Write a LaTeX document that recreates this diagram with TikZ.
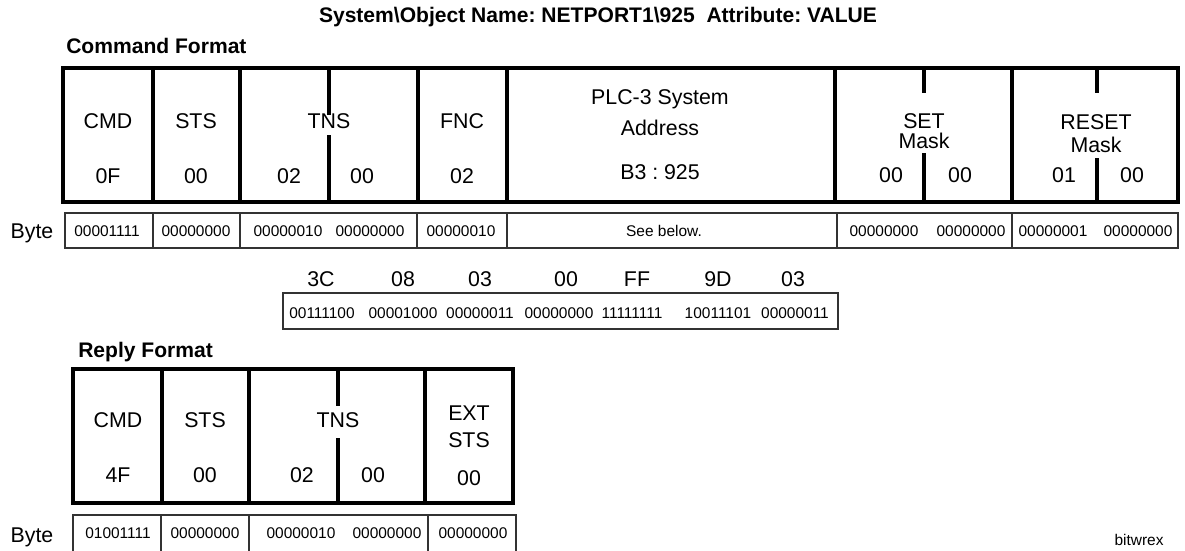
\documentclass[tikz,border=0pt]{standalone}
\usepackage{fontspec}
\setmainfont{Liberation Sans}
\frenchspacing
\begin{document}
\begin{tikzpicture}[x=0.75pt,y=0.75pt,yscale=-1,xscale=1,
  frm/.style={line width=3pt},
  spl/.style={line width=2.6pt},
  rowline/.style={line width=0.8pt, draw=black!80},
  lbl/.style={inner sep=0.75pt, font=\fontsize{16}{18}\selectfont},
  bits/.style={inner sep=0.75pt, font=\fontsize{11.6}{13}\selectfont},
  ttl/.style={inner sep=0.75pt, font=\bfseries\fontsize{15.8}{18}\selectfont}]
\useasboundingbox (0,0) rectangle (1185,550);

%Shape: Rectangle [command frame]
\draw [frm] (63,68) rectangle (1178,202) ;
%Straight Lines [command dividers]
\draw [frm] (153,68) -- (153,202) ;
\draw [frm] (240,68) -- (240,202) ;
\draw [frm] (418,68) -- (418,202) ;
\draw [frm] (507,68) -- (507,202) ;
\draw [frm] (835,68) -- (835,202) ;
\draw [frm] (1012,68) -- (1012,202) ;
%Straight Lines [split bytes]
\draw [spl] (329,68) -- (329,115) ;
\draw [spl] (329,135) -- (329,202) ;
\draw [spl] (924,68) -- (924,93) ;
\draw [spl] (924,153) -- (924,202) ;
\draw [spl] (1097,68) -- (1097,93) ;
\draw [spl] (1097,158) -- (1097,202) ;

%Shape: Rectangle [command bytes]
\draw [rowline] (65,213) rectangle (1178,248) ;
\draw [rowline] (153,213) -- (153,248) ;
\draw [rowline] (240,213) -- (240,248) ;
\draw [rowline] (417,213) -- (417,248) ;
\draw [rowline] (507,213) -- (507,248) ;
\draw [rowline] (837,213) -- (837,248) ;
\draw [rowline] (1012,213) -- (1012,248) ;

%Shape: Rectangle [address bytes]
\draw [rowline] (283,293) rectangle (838,329) ;

%Shape: Rectangle [reply frame]
\draw [frm] (73,369) rectangle (513,503) ;
\draw [frm] (162,369) -- (162,503) ;
\draw [frm] (249,369) -- (249,503) ;
\draw [frm] (425,369) -- (425,503) ;
\draw [spl] (338,369) -- (338,406) ;
\draw [spl] (338,438) -- (338,503) ;

%Shape: Rectangle [reply bytes]
\draw [rowline] (73,515) rectangle (516,553) ;
\draw [rowline] (161,515) -- (161,553) ;
\draw [rowline] (249,515) -- (249,553) ;
\draw [rowline] (428,515) -- (428,553) ;

% Text Node
\draw (598,17) node (title) [ttl] {System\textbackslash Object Name: NETPORT1\textbackslash 925\ \ Attribute: VALUE};
% Text Node
\draw (65,46) node (cmdhdr) [ttl, anchor=west] {Command Format};
% Text Node
\draw (77,352) node (rplhdr) [ttl, anchor=west] {Reply Format};

% Text Node [command fields]
\draw (108,121) node (cmd) [lbl] {CMD};
\draw (108,176) node (cmdval) [lbl] {0F};
\draw (196,121) node (sts) [lbl] {STS};
\draw (196,176) node (stsval) [lbl] {00};
\draw (329,121) node (tns) [lbl] {TNS};
\draw (289,176) node (tnslo) [lbl] {02};
\draw (362,176) node (tnshi) [lbl] {00};
\draw (462,121) node (fnc) [lbl] {FNC};
\draw (462,176) node (fncval) [lbl] {02};
\draw (660,99) node (plc) [lbl] {PLC-3 System};
\draw (660,128) node (addr) [lbl] {Address};
\draw (660,172) node (addrval) [lbl] {B3 : 925};
\draw (924,121) node (set) [lbl] {SET};
\draw (924,141) node (setmask) [lbl] {Mask};
\draw (891,175) node (setlo) [lbl] {00};
\draw (960,175) node (sethi) [lbl] {00};
\draw (1096,122) node (reset) [lbl] {RESET};
\draw (1096,145) node (resetmask) [lbl] {Mask};
\draw (1064,175) node (resetlo) [lbl] {01};
\draw (1132,175) node (resethi) [lbl] {00};

% Text Node [command bytes]
\draw (32,233) node (bytecmd) [lbl] {Byte};
\draw (107,231) node (bcmd) [bits] {00001111};
\draw (196,231) node (bsts) [bits] {00000000};
\draw (288,231) node (btnslo) [bits] {00000010};
\draw (370,231) node (btnshi) [bits] {00000000};
\draw (461,231) node (bfnc) [bits] {00000010};
\draw (664,231) node (baddr) [bits] {See below.};
\draw (884,231) node (bsetlo) [bits] {00000000};
\draw (971,231) node (bsethi) [bits] {00000000};
\draw (1053,231) node (bresetlo) [bits] {00000001};
\draw (1138,231) node (bresethi) [bits] {00000000};

% Text Node [address bytes]
\draw (321,279) node (ha) [lbl] {3C};
\draw (403,279) node (hb) [lbl] {08};
\draw (480,279) node (hc) [lbl] {03};
\draw (566,279) node (hd) [lbl] {00};
\draw (637,279) node (he) [lbl] {FF};
\draw (718,279) node (hf) [lbl] {9D};
\draw (793,279) node (hg) [lbl] {03};
\draw (322,313) node (ba) [bits] {00111100};
\draw (403,313) node (bb) [bits] {00001000};
\draw (480,313) node (bc) [bits] {00000011};
\draw (559,313) node (bd) [bits] {00000000};
\draw (632,313) node (be) [bits] {11111111};
\draw (718,313) node (bf) [bits] {10011101};
\draw (795,313) node (bg) [bits] {00000011};

% Text Node [reply fields]
\draw (118,420) node (rcmd) [lbl] {CMD};
\draw (118,475) node (rcmdval) [lbl] {4F};
\draw (205,420) node (rsts) [lbl] {STS};
\draw (205,475) node (rstsval) [lbl] {00};
\draw (338,420) node (rtns) [lbl] {TNS};
\draw (302,475) node (rtnslo) [lbl] {02};
\draw (373,475) node (rtnshi) [lbl] {00};
\draw (469,413) node (rext) [lbl] {EXT};
\draw (469,440) node (rextsts) [lbl] {STS};
\draw (469,478) node (rextval) [lbl] {00};

% Text Node [reply bytes]
\draw (32,537) node (byterpl) [lbl] {Byte};
\draw (118,533) node (rbcmd) [bits] {01001111};
\draw (205,533) node (rbsts) [bits] {00000000};
\draw (301,533) node (rbtnslo) [bits] {00000010};
\draw (387,533) node (rbtnshi) [bits] {00000000};
\draw (473,533) node (rbext) [bits] {00000000};

% Text Node
\draw (1139,540) node (mark) [bits] {bitwrex};

\end{tikzpicture}
\end{document}
